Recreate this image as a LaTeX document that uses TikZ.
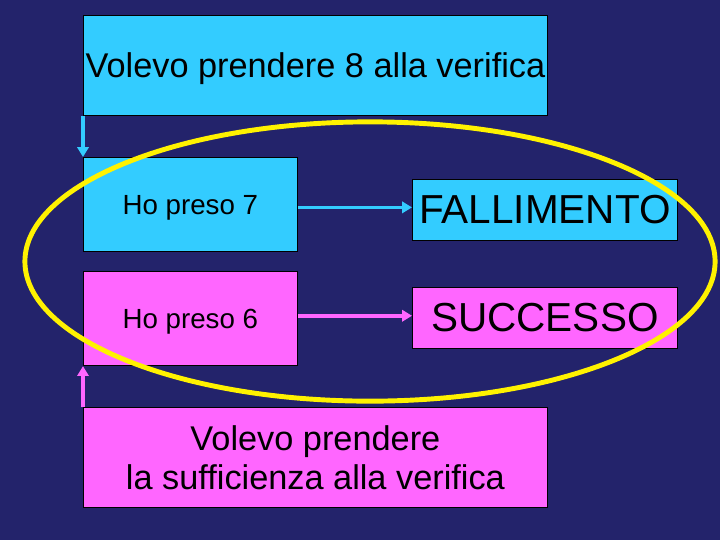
\documentclass[tikz,border=0pt]{standalone}
\usepackage{fontspec}
\setmainfont{Liberation Sans}
\usepackage{xcolor}
\usepackage{tikz}
\usetikzlibrary{positioning}
\usetikzlibrary{arrows.meta}
\definecolor{navy}{HTML}{23236B}
\definecolor{skyblue}{HTML}{33CCFF}
\definecolor{rosa}{HTML}{FF66FF}
\tikzset{
    x=0.025cm, y=-0.025cm,
    box/.style={draw=black, line width=0.5pt, inner sep=0pt, anchor=north west, align=center},
    blue box/.style={box, fill=skyblue},
    pink box/.style={box, fill=rosa},
    low text/.style={text depth=0pt},
    wide box/.style={minimum width=11.6cm, minimum height=2.5cm},
    case box/.style={minimum width=5.35cm, minimum height=2.36cm, low text},
    verdict box/.style={minimum width=6.625cm, minimum height=1.52cm, low text},
    big text/.style={font=\fontsize{24.4pt}{27.6pt}\selectfont},
    mid text/.style={font=\fontsize{19.7pt}{23pt}\selectfont},
    huge text/.style={font=\fontsize{28.8pt}{32pt}\selectfont},
    blue arrow/.style={draw=skyblue, line width=2.6pt, -{Triangle[length=7pt,width=8pt]}},
    pink arrow/.style={draw=rosa, line width=2.6pt, -{Triangle[length=7pt,width=8pt]}},
    ring/.style={draw=yellow, line width=3.5pt}
}
\begin{document}
\begin{tikzpicture}
    \fill[navy] (0,0) rectangle (720,540);
    % boxes
    \node(goal8)[blue box, wide box, big text, low text] at (83,15) {Volevo prendere 8 alla verifica};
    \node(took7)[blue box, case box, mid text] at (83,157) {Ho preso 7};
    \node(fail)[blue box, verdict box, huge text] at (412,179) {FALLIMENTO};
    \node(took6)[pink box, case box, mid text] at (83,271) {Ho preso 6};
    \node(win)[pink box, verdict box, huge text] at (412,287) {SUCCESSO};
    \node(goal6)[pink box, wide box, big text] at (83,407) {Volevo prendere\\la sufficienza alla verifica};
    % arrows
    \draw[blue arrow](goal8.south west)--(took7.north west);
    \draw[pink arrow](goal6.north west)--(took6.south west);
    \draw[blue arrow]([yshift=-2pt]took7.east)--([yshift=-2pt]took7.east -| fail.west);
    \draw[pink arrow]([yshift=2pt]took6.east)--([yshift=2pt]took6.east -| win.west);
    \draw[ring] (370,261.5) ellipse [x radius=8.625cm, y radius=3.49cm];
\end{tikzpicture}
\end{document}
